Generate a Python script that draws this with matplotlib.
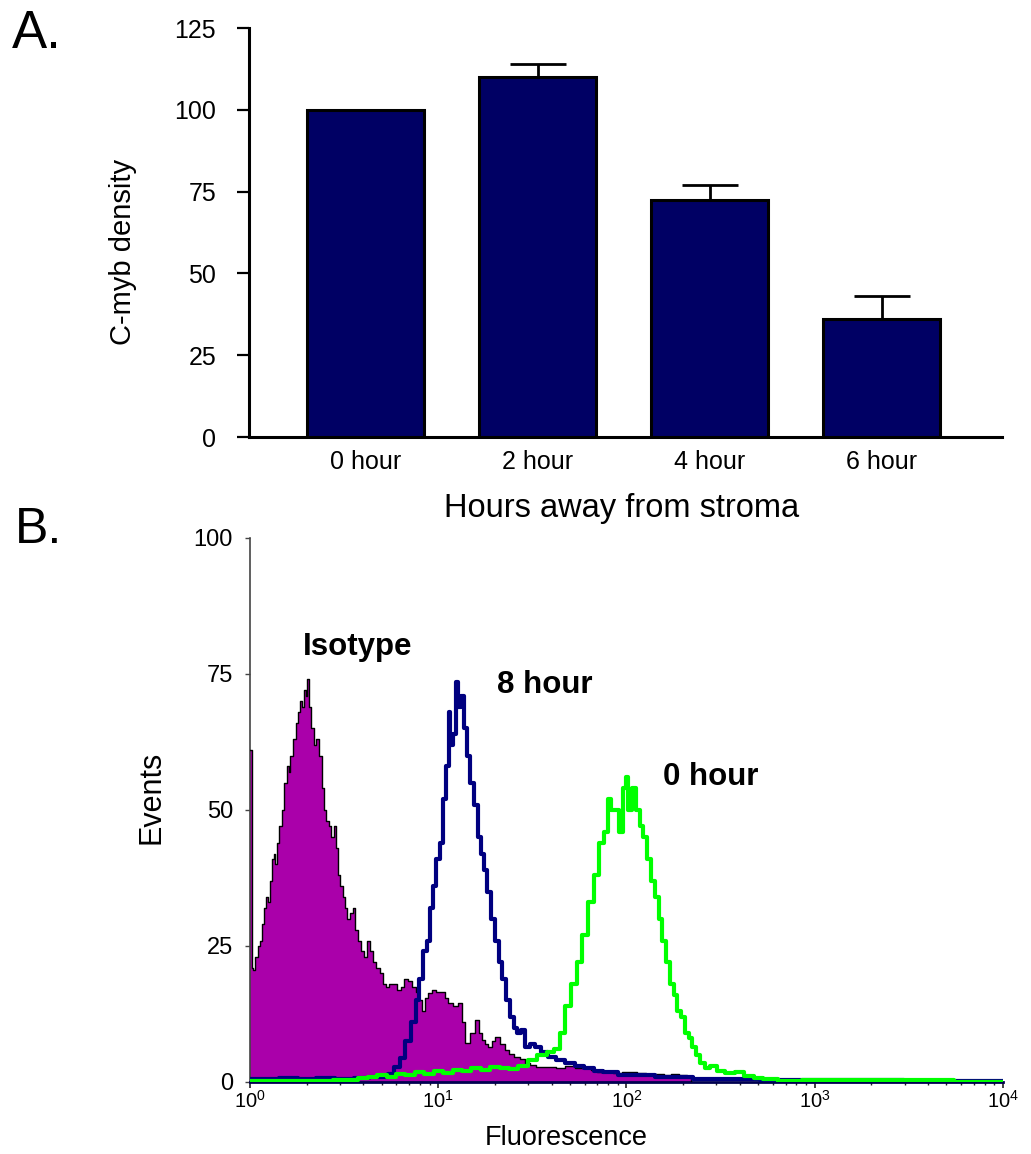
import numpy as np
import matplotlib
matplotlib.use("Agg")
import matplotlib.pyplot as plt
from matplotlib.ticker import FixedLocator, LogLocator, NullFormatter

plt.rcParams['font.family'] = ['Liberation Sans', 'DejaVu Sans']
plt.rcParams['mathtext.fontset'] = 'custom'
plt.rcParams['mathtext.rm'] = 'Liberation Sans'

# ---------------- Panel A data ----------------
bar_labels = ["0 hour", "2 hour", "4 hour", "6 hour"]
bar_values = [100, 110, 72.5, 36]
bar_errors = [0, 4, 4.5, 7]
a_yticks = [0, 25, 50, 75, 100, 125]

# ---------------- Panel B data (log10 of fluorescence, events) ----------------
iso_dec = [0.000, 0.006, 0.012, 0.02, 0.035, 0.05, 0.06, 0.07, 0.08, 0.09, 0.10, 0.11, 0.12, 0.13,
           0.14, 0.15, 0.16, 0.175, 0.19, 0.20, 0.21, 0.22, 0.235, 0.25, 0.26, 0.27, 0.28, 0.29,
           0.30, 0.31, 0.32, 0.33, 0.345, 0.36, 0.375, 0.39, 0.40, 0.41, 0.425, 0.44, 0.45, 0.46,
           0.47, 0.485, 0.50, 0.51, 0.525, 0.54, 0.555, 0.565, 0.58, 0.60, 0.615, 0.63, 0.645,
           0.66, 0.68, 0.70, 0.715, 0.73, 0.75, 0.77, 0.79, 0.81, 0.83, 0.85, 0.87, 0.89, 0.903,
           0.92, 0.94, 0.956, 0.98, 1.00, 1.025, 1.045, 1.062, 1.09, 1.116, 1.135, 1.153, 1.18,
           1.206, 1.225, 1.238, 1.255, 1.275, 1.295, 1.312, 1.34, 1.365, 1.39, 1.418, 1.445,
           1.471, 1.50, 1.54, 1.60, 1.65, 1.70, 1.75, 1.79, 1.83, 1.859, 1.90, 1.95, 2.00,
           2.035, 2.08, 2.13, 2.18, 2.215, 2.26, 2.30, 2.337, 2.345]
iso_val = [61, 61, 21, 20.5, 23, 25, 26, 29, 32, 34, 33, 37, 41, 42,
           40, 44, 47, 50, 55, 58, 57, 60, 63, 66, 68, 70, 69, 72,
           71, 74, 69, 65, 62, 63, 60, 54, 50, 48, 47, 45, 47, 43,
           38, 36, 34, 32, 30, 31, 32, 28, 26, 24, 23, 26, 24,
           22, 21, 20, 18, 17.5, 18, 18, 17, 17.5, 19, 18.5, 17.5, 16.5, 15,
           13, 15.5, 16.4, 17, 16.6, 16.6, 15.5, 14.5, 14, 14.5, 11, 7.2, 9,
           11.4, 9, 7.7, 7, 6.5, 7.5, 8.3, 7, 5.9, 5.2, 4.6, 4.2,
           3.5, 3.2, 2.8, 2.8, 2.6, 3.0, 2.6, 2.8, 2.2, 1.9, 2.0, 1.7, 1.9,
           1.9, 1.6, 1.4, 1.5, 1.3, 1.4, 1.3, 1.0, 0]

h8_dec = [0.00, 0.10, 0.20, 0.30, 0.40, 0.50, 0.60, 0.66, 0.72, 0.75, 0.78, 0.81, 0.84, 0.87,
          0.89, 0.91, 0.93, 0.95, 0.96, 0.98, 1.00, 1.02, 1.03, 1.05, 1.06, 1.07, 1.085, 1.10,
          1.115, 1.13, 1.145, 1.16, 1.18, 1.20, 1.22, 1.235, 1.25, 1.27, 1.29, 1.31, 1.33, 1.35,
          1.37, 1.39, 1.41, 1.43, 1.45, 1.47, 1.50, 1.53, 1.56, 1.60, 1.65, 1.70, 1.75, 1.80,
          1.85, 1.90, 2.00, 2.10, 2.20, 2.30, 2.40, 2.60, 2.80, 3.00, 3.30, 3.60, 4.00]
h8_val = [0.5, 0.6, 0.8, 0.5, 0.7, 0.6, 0.8, 1.0, 1.0, 1.5, 2.8, 4.5, 7.5, 11,
          15, 19, 24, 26, 32, 36, 41, 44, 52, 58, 68, 62, 64, 73.5,
          69, 71, 65, 60, 55, 51, 45, 42, 39, 35, 30, 26, 22, 19,
          15, 12, 10, 9, 9.5, 6.5, 7, 6.5, 5.5, 4.6, 4, 3.5, 3, 2.5,
          2, 1.8, 1.3, 1.2, 1.0, 0.9, 0.6, 0.5, 0.4, 0.3, 0.3, 0.2, 0.2]

h0_dec = [0.00, 0.30, 0.55, 0.60, 0.65, 0.70, 0.75, 0.80, 0.85, 0.90, 0.95, 1.00, 1.05, 1.10,
          1.15, 1.20, 1.25, 1.30, 1.35, 1.40, 1.45, 1.50, 1.55, 1.60, 1.63, 1.66, 1.69, 1.72,
          1.75, 1.78, 1.81, 1.84, 1.87, 1.89, 1.91, 1.93, 1.95, 1.97, 1.99, 2.00, 2.02, 2.04,
          2.06, 2.08, 2.10, 2.12, 2.14, 2.16, 2.18, 2.20, 2.22, 2.24, 2.26, 2.28, 2.30, 2.32,
          2.34, 2.36, 2.38, 2.40, 2.43, 2.46, 2.50, 2.55, 2.60, 2.65, 2.70, 2.75, 2.85, 3.00, 4.00]
h0_val = [0.2, 0.2, 0.3, 0.8, 1.0, 1.2, 1.0, 1.5, 1.3, 1.8, 1.5, 2.0, 1.7, 2.2,
          2.0, 2.5, 2.2, 2.8, 2.5, 2.3, 3.0, 4.0, 5.0, 5.5, 6.0, 9, 14, 18,
          22, 27, 33, 38, 44, 46, 52, 50, 50, 46, 54, 56, 50, 54,
          50, 47, 45, 41, 37, 34, 30, 26, 22, 18, 16, 13, 12, 9,
          8, 6.5, 5, 3.5, 2.6, 3.0, 2.0, 1.6, 1.8, 1.1, 0.8, 0.5, 0.2, 0.3, 0.0]

b_yticks = [0, 25, 50, 75, 100]
b_xdecades = [0, 1, 2, 3, 4]

fig = plt.figure(figsize=(10.31, 11.54), dpi=100)

# ---------------- Panel A ----------------
axA = fig.add_axes([0.2415, 0.6213, 0.7304, 0.3544])
pos = np.arange(len(bar_labels))
axA.bar(pos, bar_values, width=0.68, color='#000064', edgecolor='black', linewidth=2.2, zorder=3)
axA.errorbar(pos, bar_values, yerr=[np.zeros(len(bar_errors)), bar_errors], fmt='none',
             ecolor='black', elinewidth=2.0, capsize=20.5, capthick=2.0, zorder=2)
axA.set_xlim(-0.677, 3.70)
axA.set_ylim(0, 125)
axA.set_yticks(a_yticks)
axA.set_xticks(pos)
axA.set_xticklabels(bar_labels, fontsize=18)
axA.tick_params(axis='x', length=0, pad=9)
axA.tick_params(axis='y', length=8.6, width=1.6, pad=15, labelsize=18, direction='out')
for s in ['top', 'right']:
    axA.spines[s].set_visible(False)
axA.spines['left'].set_linewidth(2.2)
axA.spines['bottom'].set_linewidth(2.2)
axA.set_xlabel("Hours away from stroma", fontsize=23.5, va='center')
axA.xaxis.set_label_coords(0.495, -0.174)
axA.set_ylabel("C-myb density", fontsize=21, va='center')
axA.yaxis.set_label_coords(-0.167, 0.452)

# ---------------- Panel B ----------------
axB = fig.add_axes([0.2425, 0.0624, 0.7303, 0.4714])
iso_x = 10 ** np.array(iso_dec)
h8_x = 10 ** np.array(h8_dec)
h0_x = 10 ** np.array(h0_dec)
axB.fill_between(iso_x, iso_val, 0, step='mid', color='#AA00AA', linewidth=0, zorder=2)
axB.step(iso_x, iso_val, where='mid', color='black', linewidth=1.0, zorder=3)
axB.step(h8_x, h8_val, where='mid', color='#000080', linewidth=3.0, zorder=4)
axB.step(h0_x, h0_val, where='mid', color='#00FF00', linewidth=3.0, zorder=5)
axB.set_xscale('log')
axB.set_xlim(1, 1e4)
axB.set_ylim(0, 100)
axB.set_yticks(b_yticks)
axB.xaxis.set_major_locator(FixedLocator([10 ** d for d in b_xdecades]))
axB.xaxis.set_minor_locator(LogLocator(base=10, subs=np.arange(2, 10)))
axB.xaxis.set_minor_formatter(NullFormatter())
axB.set_xticklabels([r'$\mathregular{10^{%d}}$' % d for d in b_xdecades], fontsize=14.5)
axB.tick_params(axis='x', which='major', length=4, width=1.2, pad=2, color='#222222')
axB.tick_params(axis='x', which='minor', length=2.5, width=1.0, color='#222222')
axB.tick_params(axis='y', length=3.6, width=1.0, pad=8.6, labelsize=17, color='#444444')
for s in ['top', 'right']:
    axB.spines[s].set_visible(False)
axB.spines['left'].set_linewidth(1.2)
axB.spines['left'].set_color('#444444')
axB.spines['bottom'].set_linewidth(2.0)
axB.spines['bottom'].set_color('#000050')
axB.set_xlabel("Fluorescence", fontsize=19.5, va='center')
axB.xaxis.set_label_coords(0.42, -0.103)
axB.set_ylabel("Events", fontsize=22, va='center')
axB.yaxis.set_label_coords(-0.131, 0.524)

axB.text(1.91, 78.5, "Isotype", fontsize=22.5, fontweight='bold', ha='left', va='baseline')
axB.text(20.5, 71.5, "8 hour", fontsize=22.5, fontweight='bold', ha='left', va='baseline')
axB.text(156, 54.6, "0 hour", fontsize=22.5, fontweight='bold', ha='left', va='baseline')

# panel letters
fig.text(0.0116, 1 - 48 / 1154, "A.", fontsize=38, ha='left', va='baseline')
fig.text(0.0145, 1 - 543 / 1154, "B.", fontsize=36, ha='left', va='baseline')

fig.savefig("out.png", dpi=100)
